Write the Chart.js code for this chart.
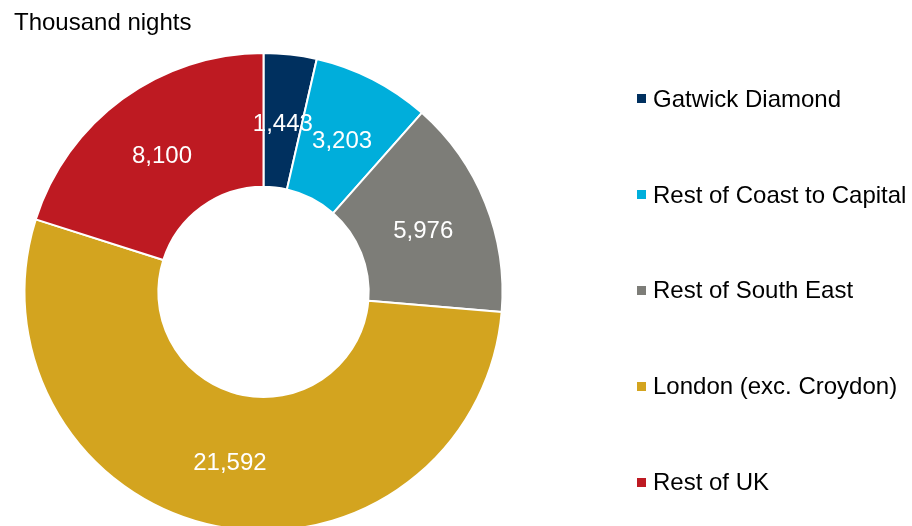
<!DOCTYPE html>
<html>
<head>
<meta charset="utf-8">
<script src="https://cdn.jsdelivr.net/npm/chart.js@4"></script>
<style>
  html, body { margin: 0; padding: 0; background: #fff; overflow: hidden; }
  #wrap { position: relative; width: 912px; height: 526px; overflow: hidden; }
  #nightsChart { position: absolute; left: 0; top: 0; }
  #legend {
    position: absolute; left: 637px; top: 51px; margin: 0; padding: 0;
    list-style: none; font-family: "Liberation Sans", Arial, sans-serif;
    font-size: 24px; color: #000;
  }
  #legend li { height: 95.8px; display: flex; align-items: center; white-space: nowrap; }
  #legend span { display: inline-block; width: 9px; height: 9px; margin-right: 7px; }
</style>
</head>
<body>
<div id="wrap">
  <canvas id="nightsChart" width="912" height="560"></canvas>
  <ul id="legend"></ul>
</div>
<script>
const regions = ["Gatwick Diamond", "Rest of Coast to Capital", "Rest of South East", "London (exc. Croydon)", "Rest of UK"];
const nights = [1443, 3203, 5976, 21592, 8100];
const colours = ["#00305F", "#00AEDB", "#7D7D78", "#D3A41F", "#BE1A22"];

// value labels in the middle of each ring segment
const sliceLabels = {
  id: "sliceLabels",
  afterDatasetsDraw(chart) {
    const ctx = chart.ctx;
    const meta = chart.getDatasetMeta(0);
    ctx.save();
    ctx.font = "24px 'Liberation Sans', Arial, sans-serif";
    ctx.fillStyle = "#fff";
    ctx.textAlign = "center";
    ctx.textBaseline = "middle";
    meta.data.forEach((arc, i) => {
      const p = arc.tooltipPosition();
      ctx.fillText(nights[i].toLocaleString("en-GB"), p.x, p.y + 3);
    });
    ctx.restore();
  },
};

new Chart(document.getElementById("nightsChart"), {
  type: "doughnut",
  data: {
    labels: regions,
    datasets: [
      {
        data: nights,
        backgroundColor: colours,
        borderColor: "#fff",
        borderWidth: 2,
        radius: 239,
      },
    ],
  },
  options: {
    responsive: false,
    animation: false,
    events: [],
    cutout: "44%",
    layout: { padding: { left: 14, right: 399, top: 0, bottom: 14 } },
    plugins: {
      legend: { display: false },
      tooltip: { enabled: false },
      title: {
        display: true,
        text: "Thousand nights",
        align: "start",
        color: "#000",
        font: { family: "'Liberation Sans', Arial, sans-serif", size: 24, weight: "normal" },
        padding: { top: 9, bottom: 0 },
      },
    },
  },
  plugins: [sliceLabels],
});

// legend list built from the same arrays
const legend = document.getElementById("legend");
regions.forEach((name, i) => {
  const li = document.createElement("li");
  const box = document.createElement("span");
  box.style.background = colours[i];
  li.appendChild(box);
  li.appendChild(document.createTextNode(name));
  legend.appendChild(li);
});
</script>
</body>
</html>
